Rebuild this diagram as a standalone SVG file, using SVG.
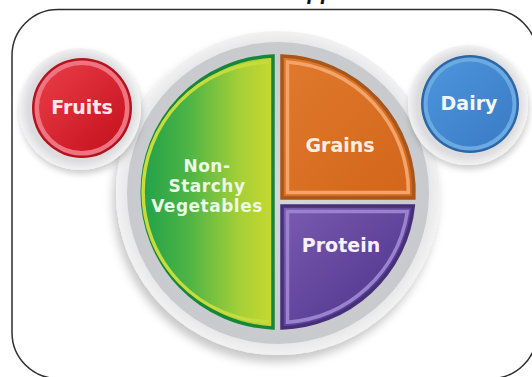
<svg xmlns="http://www.w3.org/2000/svg" width="532" height="377" viewBox="0 0 532 377">
  <style>
    .lbl { font-family: "DejaVu Sans", "Liberation Sans", sans-serif; font-weight: bold; text-anchor: middle; }
    .veg { font-size: 17px; letter-spacing: 0.5px; fill: #eaf8e4; }
    .frame { fill: none; stroke: #2e2e2e; stroke-width: 1.5; }
  </style>
  <defs>
    <filter id="shadow" x="-20%" y="-20%" width="140%" height="150%">
      <feDropShadow dx="-3" dy="7" stdDeviation="5" flood-color="#000" flood-opacity="0.22"/>
    </filter>
    <filter id="shadowS" x="-30%" y="-30%" width="160%" height="170%">
      <feDropShadow dx="1" dy="4" stdDeviation="3" flood-color="#000" flood-opacity="0.2"/>
    </filter>
    <radialGradient id="plateIn" cx="0.5" cy="0.5" r="0.5">
      <stop offset="0" stop-color="#d6d7d9"/>
      <stop offset="1" stop-color="#c9cacd"/>
    </radialGradient>
    <radialGradient id="rim" cx="0.5" cy="0.5" r="0.5">
      <stop offset="0.85" stop-color="#dcdcde"/>
      <stop offset="1" stop-color="#f2f2f3"/>
    </radialGradient>
    <linearGradient id="veg" x1="142" y1="0" x2="273" y2="0" gradientUnits="userSpaceOnUse">
      <stop offset="0" stop-color="#22a14a"/>
      <stop offset="0.35" stop-color="#4cb445"/>
      <stop offset="0.75" stop-color="#a6cf38"/>
      <stop offset="1" stop-color="#c8d92e"/>
    </linearGradient>
    <linearGradient id="grain" x1="0" y1="0" x2="1" y2="1">
      <stop offset="0" stop-color="#e07a2c"/>
      <stop offset="1" stop-color="#d2651a"/>
    </linearGradient>
    <linearGradient id="prot" x1="0" y1="0" x2="1" y2="1">
      <stop offset="0" stop-color="#7a5cb2"/>
      <stop offset="1" stop-color="#4a2f86"/>
    </linearGradient>
    <linearGradient id="red" x1="0" y1="0" x2="1" y2="1">
      <stop offset="0" stop-color="#ea3d48"/>
      <stop offset="1" stop-color="#c3101d"/>
    </linearGradient>
    <linearGradient id="blue" x1="0" y1="0" x2="1" y2="1">
      <stop offset="0" stop-color="#4c95dc"/>
      <stop offset="1" stop-color="#3a7bc4"/>
    </linearGradient>
  </defs>

  <rect width="532" height="377" fill="#ffffff"/>

  <g id="title">
    <text x="321" y="-1" font-family="'Liberation Sans', sans-serif" font-size="22" font-weight="bold" font-style="italic" text-anchor="middle" fill="#111">pp</text>
  </g>

  <g id="frame">
    <rect class="frame" x="12" y="9.5" width="525" height="369" rx="46" ry="46"/>
  </g>

  <g id="plate">
    <circle cx="278" cy="193" r="162" fill="url(#rim)" filter="url(#shadow)"/>
    <circle cx="278" cy="193" r="151" fill="url(#plateIn)"/>
  </g>

  <g id="vegetables">
    <path d="M273,56.1 A136,136 0 0 0 273,327.9 Z" fill="url(#veg)" stroke="#17863a" stroke-width="3.5"/>
    <path d="M268,62.1 A130,130 0 0 0 268,321.9" fill="none" stroke="#c6db3c" stroke-width="3.5"/>
    <text class="lbl veg" x="207" y="171.5">Non-</text>
    <text class="lbl veg" x="207" y="191.5">Starchy</text>
    <text class="lbl veg" x="207" y="211.5">Vegetables</text>
  </g>

  <g id="grains">
    <path d="M282,198 L282,56.06 A136,136 0 0 1 413.87,198 Z" fill="url(#grain)" stroke="#a9561a" stroke-width="3.5"/>
    <path d="M287.5,192.5 L287.5,61.9 A130.5,130.5 0 0 1 408.4,192.5 Z" fill="none" stroke="#f1a56c" stroke-width="3.5"/>
    <text class="lbl" x="340" y="152" font-size="19" fill="#fbefe2">Grains</text>
  </g>

  <g id="protein">
    <path d="M282,206 L413.28,206 A136,136 0 0 1 282,327.94 Z" fill="url(#prot)" stroke="#47307a" stroke-width="3.5"/>
    <path d="M287.5,211.5 L407.4,211.5 A130.5,130.5 0 0 1 287.5,322.2 Z" fill="none" stroke="#9a82cc" stroke-width="3.5"/>
    <text class="lbl" x="341" y="252" font-size="19" fill="#f6f1fb">Protein</text>
  </g>

  <g id="fruits">
    <circle cx="80" cy="109" r="61" fill="url(#rim)" filter="url(#shadowS)"/>
    <circle cx="82" cy="108" r="50" fill="#b5121e"/>
    <circle cx="82" cy="108" r="47.5" fill="#ef7482"/>
    <circle cx="82" cy="108" r="43" fill="url(#red)"/>
    <text class="lbl" x="82" y="114" font-size="19" fill="#fde9ea">Fruits</text>
  </g>

  <g id="dairy">
    <circle cx="468" cy="105" r="60" fill="url(#rim)" filter="url(#shadowS)"/>
    <circle cx="470" cy="104" r="49" fill="#2b66a6"/>
    <circle cx="470" cy="104" r="46.5" fill="#6aa9e2"/>
    <circle cx="470" cy="104" r="42.5" fill="url(#blue)"/>
    <text class="lbl" x="469" y="110" font-size="19" fill="#f2f7fc">Dairy</text>
  </g>

  <g id="connectors"/>
</svg>
